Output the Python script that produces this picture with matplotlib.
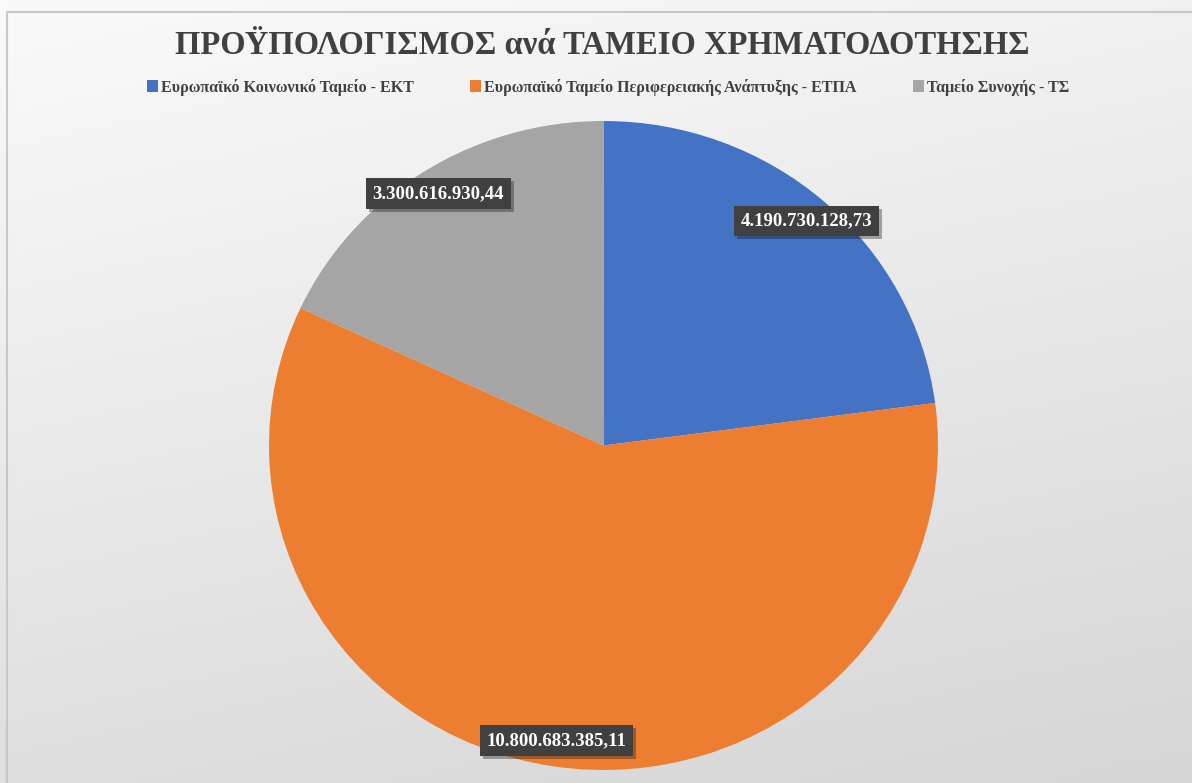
import matplotlib
matplotlib.use("Agg")
import matplotlib.pyplot as plt
import matplotlib.patheffects as pe
from matplotlib.patches import Rectangle
import numpy as np

plt.rcParams["font.family"] = ["Liberation Serif", "DejaVu Serif"]

# ── datos ──────────────────────────────────────────────────────────────────
fondos = ["Ευρωπαϊκό Κοινωνικό Ταμείο - ΕΚΤ",
          "Ευρωπαϊκό Ταμείο Περιφερειακής Ανάπτυξης - ΕΤΠΑ",
          "Ταμείο Συνοχής - ΤΣ"]
valores = [4190730128.73, 10800683385.11, 3300616930.44]
colores = ["#4472C4", "#ED7D31", "#A5A5A5"]
titulo = "ΠΡΟΫΠΟΛΟΓΙΣΜΟΣ ανά ΤΑΜΕΙΟ ΧΡΗΜΑΤΟΔΟΤΗΣΗΣ"


def formato_gr(v):
    """4190730128.73 -> '4.190.730.128,73'"""
    s = f"{v:,.2f}"
    return s.replace(",", "X").replace(".", ",").replace("X", ".")


W, H = 1192, 783
fig = plt.figure(figsize=(W / 100, H / 100), dpi=100)

# fondo con degradado (claro arriba-izquierda, gris abajo)
bg = fig.add_axes([0, 0, 1, 1])
yy, xx = np.mgrid[0:1:200j, 0:1:300j]
g = 0.75 * yy + 0.25 * xx
nivel = (250 - 36 * g) / 255.0
img = np.dstack([nivel, nivel, nivel])
bg.imshow(img, extent=[0, 1, 0, 1], aspect="auto", origin="upper")
bg.add_patch(Rectangle((7 / W, -0.1), 1.2, 1 - 12 / H + 0.1, fill=False,
                       ec="#c8c8c8", lw=1.5, transform=bg.transAxes))
bg.set_xlim(0, 1), bg.set_ylim(0, 1)
bg.axis("off")

# tarta
ax = fig.add_axes([269 / W, 13 / H, (938 - 269) / W, (770 - 121) / H])
etiquetas = iter(valores)
wedges, _, autotexts = ax.pie(
    valores, colors=colores, startangle=90, counterclock=False,
    autopct=lambda p: formato_gr(next(etiquetas)),
    pctdistance=0.92, radius=1.0)
ax.set_aspect("auto")
ax.set_xlim(-1, 1), ax.set_ylim(-1, 1)
for t in autotexts:
    t.set_color("white")
    t.set_fontweight("bold")
    t.set_fontsize(13.5)
    t.set_bbox(dict(boxstyle="square,pad=0.36", fc="#404040", ec="none"))
    t.get_bbox_patch().set_path_effects(
        [pe.SimplePatchShadow(offset=(2, -2), alpha=0.35), pe.Normal()])

fig.text(0.505, 1 - 45 / H, titulo, ha="center", va="center",
         fontsize=23.5, fontweight="bold", color="#404040")

fig.legend(wedges, fondos, loc="center", ncol=3,
           bbox_to_anchor=(0.51, 1 - 87 / H), frameon=False,
           handlelength=0.7, handleheight=0.7, handletextpad=0.2,
           columnspacing=3.5, prop={"weight": "bold", "size": 11.5},
           labelcolor="#404040")

fig.savefig("out.png", dpi=100)
